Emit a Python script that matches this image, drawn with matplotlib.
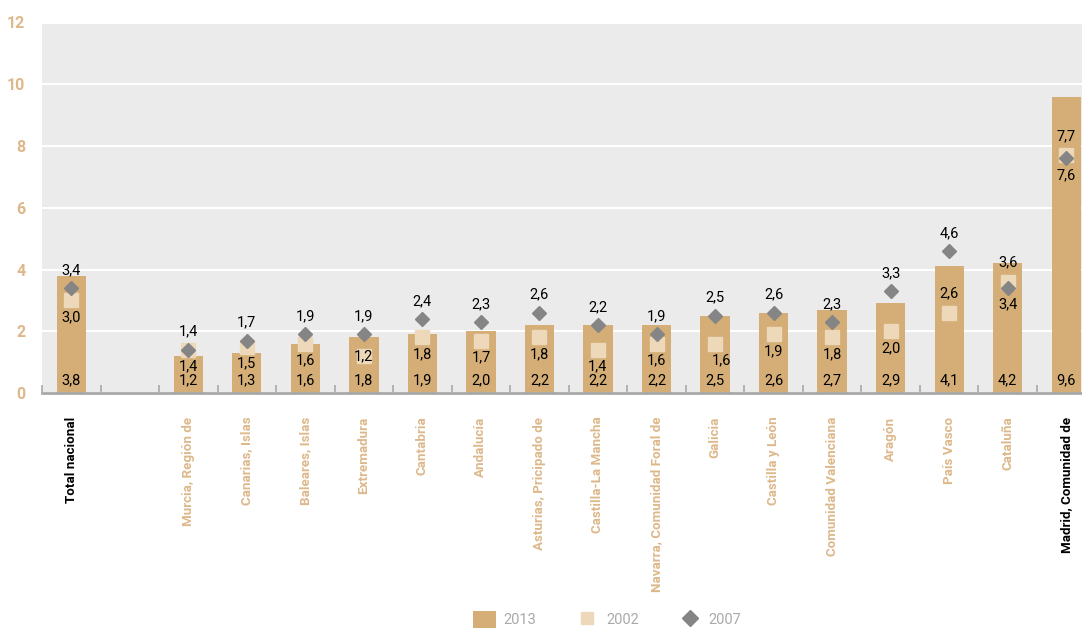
import numpy as np
import matplotlib
matplotlib.use("Agg")
import matplotlib.pyplot as plt
from matplotlib.patches import Patch
from matplotlib.lines import Line2D

plt.rcParams['font.family'] = ['Roboto', 'DejaVu Sans']

# --- datos ---
regiones = ["Total nacional", "", "Murcia, Región de", "Canarias, Islas", "Baleares, Islas",
            "Extremadura", "Cantabria", "Andalucía", "Asturias, Pricipado de",
            "Castilla-La Mancha", "Navarra, Comunidad Foral de", "Galicia",
            "Castilla y León", "Comunidad Valenciana", "Aragón", "País Vasco",
            "Cataluña", "Madrid, Comunidad de"]
v2013 = [3.8, np.nan, 1.2, 1.3, 1.6, 1.8, 1.9, 2.0, 2.2, 2.2, 2.2, 2.5, 2.6, 2.7, 2.9, 4.1, 4.2, 9.6]
v2002 = [3.0, np.nan, 1.4, 1.5, 1.6, 1.2, 1.8, 1.7, 1.8, 1.4, 1.6, 1.6, 1.9, 1.8, 2.0, 2.6, 3.6, 7.7]
v2007 = [3.4, np.nan, 1.4, 1.7, 1.9, 1.9, 2.4, 2.3, 2.6, 2.2, 1.9, 2.5, 2.6, 2.3, 3.3, 4.6, 3.4, 7.6]
series = ["2013", "2002", "2007"]
yticks = [0, 2, 4, 6, 8, 10, 12]

# posicion de etiquetas (estilo): +1 encima, -1 debajo, 0 centrada
pos2002 = [-1, 0, -1, -1, -1, 0, -1, -1, -1, -1, -1, -1, -1, -1, -1, 1, 1, 1]
pos2007 = [1] * 16 + [-1, -1]
destacadas = {"Total nacional", "Madrid, Comunidad de"}

c_bar = "#D4AE76"
c_sq = "#EDD8B9"
c_dia = "#858585"
c_tan = "#DDB88A"


def fmt(v):
    return f"{v:.1f}".replace(".", ",")


fig = plt.figure(figsize=(10.82, 6.29), dpi=100)
ax = fig.add_axes([42 / 1082, 1 - 393 / 629, 1 - 42 / 1082, (393 - 22.5) / 629])
ax.set_facecolor("#EBEBEB")

x = np.arange(len(regiones))
ax.bar(x, v2013, width=0.5, color=c_bar, zorder=2)
ax.plot(x, v2002, linestyle="none", marker="s", markersize=9.5, color=c_sq, zorder=3)
ax.plot(x, v2007, linestyle="none", marker="D", markersize=7.5, color=c_dia, zorder=4)

for i in range(len(regiones)):
    if np.isnan(v2013[i]):
        continue
    ax.annotate(fmt(v2013[i]), (x[i], 0), xytext=(0, 9.5), textcoords="offset points",
                ha="center", va="center", fontsize=10.5, zorder=5)
    off = 12 if pos2002[i] < 0 else 14
    dx = 5 if regiones[i] == "Galicia" else 0
    ax.annotate(fmt(v2002[i]), (x[i], v2002[i]), xytext=(dx, off * pos2002[i]),
                textcoords="offset points", ha="center", va="center", fontsize=10.5, zorder=5)
    off = 12 if pos2007[i] < 0 else 13
    ax.annotate(fmt(v2007[i]), (x[i], v2007[i]), xytext=(0, off * pos2007[i]),
                textcoords="offset points", ha="center", va="center", fontsize=10.5, zorder=5)

ax.set_ylim(0, 12)
ax.set_xlim(-0.5, 17.27)
ax.set_yticks(yticks)
ax.yaxis.grid(True, color="white", linewidth=1.5, zorder=1)
ax.set_axisbelow(True)
for s in ["top", "right", "left"]:
    ax.spines[s].set_visible(False)
ax.spines["bottom"].set_color("#A8A8A8")
ax.spines["bottom"].set_linewidth(2)
ax.tick_params(axis="y", length=0, pad=12, labelcolor=c_tan, labelsize=11.5)
for t in ax.get_yticklabels():
    t.set_fontweight("bold")

ax.set_xticks(np.arange(-0.5, 17, 1), minor=True)
ax.set_xticks(x)
ax.set_xticklabels(regiones, rotation=90, fontsize=9.6, fontweight="bold", va="top")
ax.tick_params(axis="x", which="major", length=0, pad=17)
ax.tick_params(axis="x", which="minor", direction="in", length=6, width=1.2, color="#A8A8A8")
for t, r in zip(ax.get_xticklabels(), regiones):
    t.set_color("black" if r in destacadas else c_tan)

handles = [Patch(facecolor=c_bar, edgecolor="none"),
           Line2D([], [], linestyle="none", marker="s", markersize=9, color=c_sq),
           Line2D([], [], linestyle="none", marker="D", markersize=8.5, color=c_dia)]
leg = fig.legend(handles, series, loc="center", bbox_to_anchor=(0.561, 0.015), ncol=3,
                 frameon=False, fontsize=10.5, handlelength=1.6, handleheight=1.4,
                 columnspacing=2.7, handletextpad=0.5)
for t in leg.get_texts():
    t.set_color("#AAAAAA")

fig.savefig("out.png", dpi=100)
